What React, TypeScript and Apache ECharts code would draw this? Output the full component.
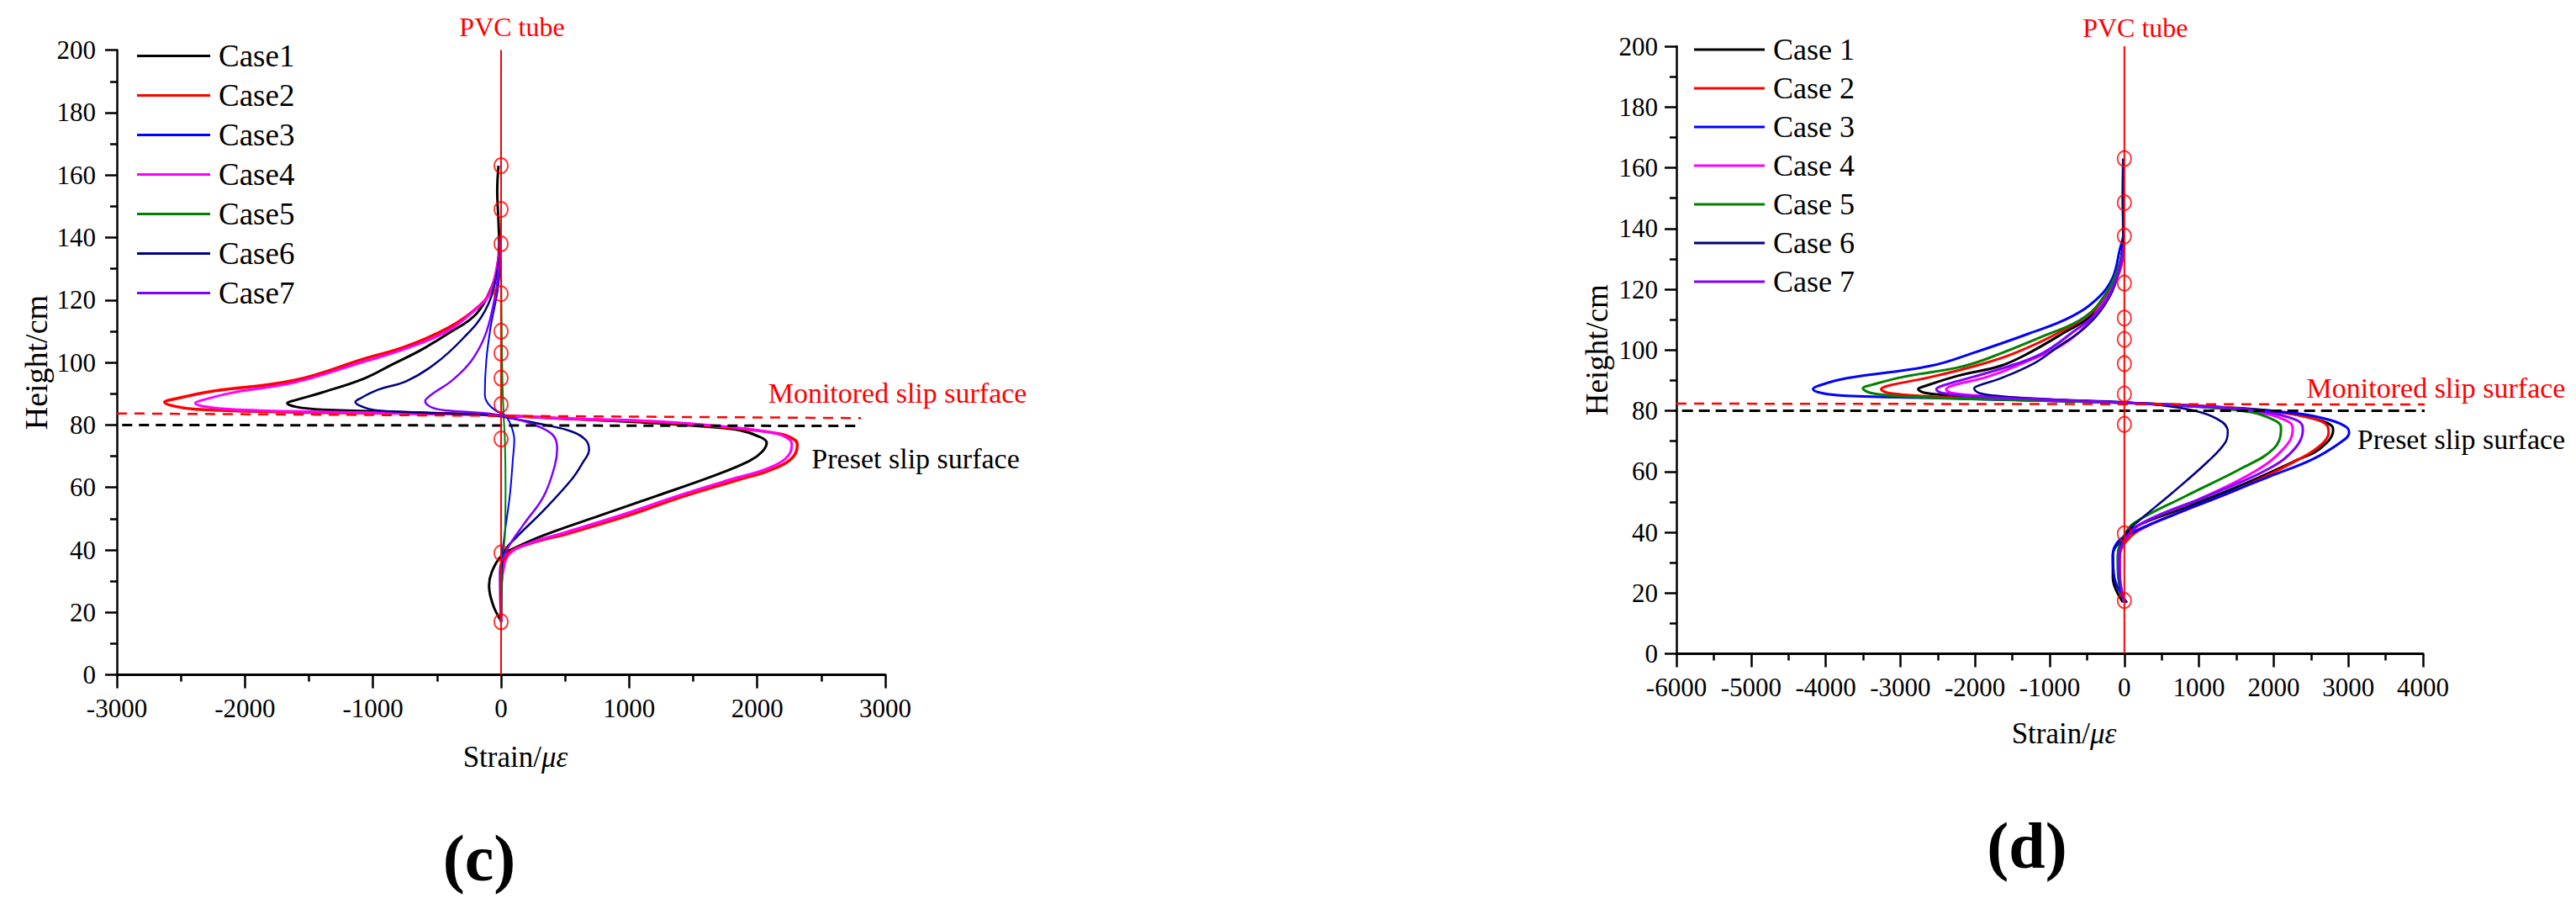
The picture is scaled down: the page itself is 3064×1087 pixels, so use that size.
import { useEffect, useRef } from 'react';
import * as echarts from 'echarts';

const SERIF = '"Liberation Serif", "Times New Roman", serif';

// ---------- Panel (c) ----------
const casesC = ['Case1', 'Case2', 'Case3', 'Case4', 'Case5', 'Case6', 'Case7'];
const xRangeC = [-3000, 3000];
const c1: number[][] = [[-20, 163], [-30, 155], [-20, 145], [-15, 138], [-30, 130], [-70, 124.5], [-193, 115.6], [-412, 109.3], [-630, 103.9], [-849, 99.4], [-1068, 94.9], [-1397, 90.4], [-1600, 88], [-1670, 87.0], [-1600, 85.8], [-1397, 84.9], [-740, 84.1], [-200, 83.4], [0, 83.0], [552, 81.9], [1208, 80.6], [1650, 79.3], [1865, 78.3], [2020, 76.2], [2074, 74.3], [2040, 71.5], [1940, 68.5], [1646, 63.5], [1208, 57.2], [771, 51.0], [333, 44.7], [100, 40.5], [0, 38], [-72, 33], [-94, 28.5], [-61, 22.2], [-6, 17.7]];
const c2: number[][] = [[-5, 140], [-18, 133.5], [-83, 122.7], [-193, 117.3], [-412, 111.1], [-740, 105.2], [-1068, 101.2], [-1615, 94.3], [-2272, 90.7], [-2550, 88.3], [-2628, 87.3], [-2550, 86.0], [-2381, 85.0], [-1615, 84.1], [-742, 83.7], [-20, 83.1], [552, 81.9], [1208, 81.0], [1865, 78.8], [2193, 77.0], [2300, 75], [2313, 73.4], [2259, 68.9], [2084, 65.3], [1865, 62.6], [1427, 57.2], [990, 51.0], [552, 45.6], [223, 42.0], [70, 39.3], [15, 34.8], [0, 26], [0, 17]];
const c3: number[][] = [[0, 140], [-20, 125], [-83, 111], [-116, 100.3], [-127, 89.5], [-105, 87.0], [-40, 84.5], [26, 83.3], [70, 80.6], [103, 75.2], [92, 69], [70, 58.1], [33, 46.6], [11, 39.3], [0, 30], [0, 17]];
const c4: number[][] = [[-5, 140], [-20, 133], [-90, 122], [-200, 117], [-412, 110.2], [-740, 104.5], [-1068, 100.3], [-1615, 93.6], [-2100, 90.3], [-2330, 88], [-2388, 87.0], [-2300, 85.8], [-2053, 84.9], [-1400, 84.2], [-700, 83.7], [0, 83.0], [552, 82.0], [1208, 81.2], [1800, 79.3], [2150, 77.2], [2260, 75], [2270, 73.4], [2220, 69.2], [2050, 65.6], [1830, 63], [1400, 57.6], [950, 51.3], [500, 45.6], [200, 41.8], [60, 38.5], [20, 34], [-5, 25], [0, 17]];
const c5: number[][] = [[0, 135], [5, 110], [10, 95], [15, 88], [20, 83], [30, 75], [35, 60], [30, 45], [15, 38], [5, 25], [0, 17]];
const c6: number[][] = [[0, 140], [-39, 127.2], [-127, 116.4], [-302, 107.5], [-521, 99.4], [-740, 94.0], [-959, 91.3], [-1100, 88.5], [-1138, 87.3], [-1080, 85.8], [-959, 84.6], [-521, 83.8], [-100, 83.2], [100, 82], [333, 80.1], [552, 77.9], [661, 75.2], [687, 72.0], [639, 68.0], [552, 62.6], [333, 52.7], [114, 43.8], [26, 39.3], [0, 30], [0, 17]];
const c7: number[][] = [[0, 140], [-30, 125.7], [-61, 118.3], [-127, 108.4], [-236, 100.3], [-390, 94.0], [-521, 90.4], [-580, 88.5], [-593, 87.7], [-540, 85.6], [-412, 84.6], [-83, 83.6], [100, 82], [223, 80.6], [399, 77.0], [438, 72.5], [420, 67.1], [333, 57.2], [179, 48.3], [48, 40.2], [-10, 33], [-5, 22], [0, 17]];
const sensorsC = [163, 149, 138, 122, 110, 103, 95, 86.5, 75.5, 39, 17];
const monitoredC: number[][] = [[-3000, 83.7], [2810, 82.2]];
const presetC: number[][] = [[-3090, 80], [2810, 79.7]];

// ---------- Panel (d) ----------
const casesD = ['Case 1', 'Case 2', 'Case 3', 'Case 4', 'Case 5', 'Case 6', 'Case 7'];
const xRangeD = [-6000, 4000];
const d1: number[][] = [[-15, 163], [-20, 150], [-15, 138], [-60, 128], [-154, 122], [-417, 111.9], [-830, 105.4], [-1280, 99.0], [-1655, 94.8], [-2218, 91.6], [-2650, 88.3], [-2762, 87.1], [-2650, 85.8], [-2218, 84.8], [-1200, 83.6], [0, 82.6], [1200, 81.3], [2100, 79.6], [2624, 76.8], [2780, 75], [2796, 73.6], [2624, 67.6], [2323, 63.9], [1573, 55.6], [822, 48.2], [146, 41.8], [-60, 37], [-154, 32.5], [-154, 25], [-20, 17]];
const d2: number[][] = [[-5, 135], [-60, 126], [-229, 119], [-417, 112.8], [-904, 105.4], [-1467, 99.0], [-1918, 95.3], [-2593, 91.1], [-3150, 88.3], [-3258, 87.1], [-3150, 85.8], [-2593, 84.7], [-1500, 83.6], [0, 82.6], [1200, 81.3], [2100, 79.4], [2550, 77.3], [2720, 75], [2736, 72.7], [2661, 69.4], [2398, 64.8], [1573, 54.7], [822, 47.3], [183, 40.4], [-30, 35], [-80, 28], [-50, 21], [0, 17]];
const d3: number[][] = [[-5, 138], [-60, 133.1], [-154, 123.9], [-341, 117.4], [-717, 110.9], [-1280, 105.4], [-2030, 99.0], [-2593, 94.8], [-3719, 90.7], [-4100, 88.2], [-4170, 87.1], [-4050, 85.8], [-3719, 84.9], [-2593, 84.2], [-1092, 83.3], [0, 82.6], [1197, 81.0], [2323, 79.1], [2773, 76.8], [2980, 74.5], [3010, 72.7], [2886, 69.4], [2511, 63.9], [1948, 58.4], [1197, 51.0], [634, 45.5], [146, 40.4], [-79, 37.1], [-154, 32.5], [-135, 25.1], [34, 16.8]];
const d4: number[][] = [[-5, 135], [-80, 125], [-300, 115], [-717, 103.6], [-1392, 95.3], [-1843, 91.1], [-2300, 88.3], [-2387, 87.0], [-2300, 85.8], [-1843, 84.8], [-900, 83.6], [0, 82.6], [1000, 81.4], [1800, 79.5], [2150, 77], [2250, 75], [2255, 73.6], [2136, 67.6], [1760, 60.2], [1010, 51.0], [259, 43.3], [20, 38], [-60, 32], [-60, 25], [0, 17]];
const d5: number[][] = [[-5, 135], [-68, 128], [-229, 119.3], [-529, 110.9], [-1092, 104.5], [-1843, 97.1], [-2218, 94.3], [-2969, 91.1], [-3400, 88.4], [-3502, 87.4], [-3400, 85.9], [-2969, 84.7], [-1800, 83.8], [0, 82.6], [1000, 81.4], [1700, 79.5], [2000, 77], [2095, 75], [2098, 73.6], [2004, 67.6], [1573, 61.1], [822, 51.9], [146, 43.3], [0, 39], [-90, 32], [-80, 25], [0, 17]];
const d6: number[][] = [[-15, 163], [-20, 150], [-15, 138], [-94, 124], [-267, 114.7], [-529, 107.3], [-904, 100.8], [-1205, 95.7], [-1655, 90.7], [-1950, 88.3], [-2012, 87.4], [-1950, 85.9], [-1655, 84.8], [-900, 83.7], [0, 82.8], [500, 81.8], [1010, 79.6], [1310, 76.3], [1385, 73.1], [1348, 69.4], [1123, 63.4], [634, 52.8], [184, 43.6], [34, 40], [-60, 34], [-70, 26], [0, 17]];
const d7: number[][] = [[-5, 135], [-100, 124], [-341, 113], [-717, 105.4], [-1092, 99], [-1467, 95.3], [-2030, 91.1], [-2430, 88.3], [-2519, 87.0], [-2430, 85.8], [-2030, 84.8], [-1000, 83.6], [0, 82.6], [1100, 81.4], [1900, 79.5], [2300, 77], [2385, 75], [2391, 73.6], [2286, 67.6], [1948, 61.1], [1197, 52.8], [259, 43.3], [20, 38], [-70, 32], [-60, 25], [0, 17]];
const sensorsD = [163, 148.5, 137.5, 122, 110.5, 103.5, 95.5, 85.5, 75.5, 39.5, 17.5];
const monitoredD: number[][] = [[-6000, 82.35], [4000, 82.05], [4225, 82.0]];
const presetD: number[][] = [[-6150, 80], [4000, 80], [4225, 80]];

const yRange = [0, 200];
const caseColors = ['#000000', '#FF0000', '#0000FF', '#FF00FF', '#008000', '#000080', '#8000FF'];
const widthsC = [3, 3.5, 2, 3, 2, 2.5, 2.5];
const widthsD = [3, 3, 3, 3, 3, 2.5, 3];

const App = () => {
  const ref = useRef<HTMLDivElement>(null);
  useEffect(() => {
    if (!ref.current) return;
    const chart = echarts.init(ref.current, null, { renderer: 'svg' });

    const xAxisBase = (idx: number, range: number[], gap: number) => ({
      type: 'value', gridIndex: idx, min: range[0], max: range[1], interval: 1000,
      name: 'Strain/{i|με}', nameLocation: 'middle', nameGap: gap,
      nameTextStyle: { fontFamily: SERIF, fontSize: 35, color: '#000', padding: [0, 0, 0, 34],
        rich: { i: { fontFamily: SERIF, fontSize: 35, fontStyle: 'italic', color: '#000' } } },
      axisLine: { show: true, onZero: false, lineStyle: { color: '#000', width: 3 } },
      axisTick: { show: true, inside: false, length: 16, lineStyle: { color: '#000', width: 2.5 } },
      minorTick: { show: true, splitNumber: 2, length: 8, lineStyle: { color: '#000', width: 2.5 } },
      axisLabel: { fontFamily: SERIF, fontSize: 31, color: '#000', margin: 24, formatter: (v: number) => String(v) },
      splitLine: { show: false },
    });
    const yAxisBase = (idx: number, gap: number, margin: number, nameSize: number) => ({
      type: 'value', gridIndex: idx, min: yRange[0], max: yRange[1], interval: 20,
      name: 'Height/cm', nameLocation: 'middle', nameGap: gap, nameRotate: 90,
      nameTextStyle: { fontFamily: SERIF, fontSize: nameSize, color: '#000' },
      axisLine: { show: true, onZero: false, lineStyle: { color: '#000', width: 2.5 } },
      axisTick: { show: true, inside: false, length: 14, lineStyle: { color: '#000', width: 2.5 } },
      minorTick: { show: true, splitNumber: 2, length: 8, lineStyle: { color: '#000', width: 2.5 } },
      axisLabel: { fontFamily: SERIF, fontSize: 31, color: '#000', margin, formatter: (v: number) => String(v) },
      splitLine: { show: false },
    });

    const curvesC = [c1, c2, c3, c4, c5, c6, c7];
    const curvesD = [d1, d2, d3, d4, d5, d6, d7];
    const curveSeries = (names: string[], curves: number[][][], widths: number[], idx: number) =>
      curves.map((data, i) => ({
        type: 'line', name: names[i], data, xAxisIndex: idx, yAxisIndex: idx,
        smooth: 0.4, symbol: 'none', showSymbol: false,
        lineStyle: { color: caseColors[i], width: widths[i] }, itemStyle: { color: caseColors[i] },
        z: 3,
      }));

    const labelMark = (coord: number[], text: string, offset: number[], color: string, size: number) => ({
      symbol: 'circle', symbolSize: 1, silent: true,
      itemStyle: { color: 'rgba(0,0,0,0)' },
      label: { show: true, position: 'inside', formatter: text, offset, color, fontFamily: SERIF, fontSize: size },
      data: [{ coord }],
    });

    const dashed = (data: number[][], idx: number, color: string, width: number, dash: number[], mark: any) => ({
      type: 'line', data, xAxisIndex: idx, yAxisIndex: idx, symbol: 'none', showSymbol: false, clip: false,
      lineStyle: { color, width, type: dash }, z: 4, markPoint: mark,
    });

    const pvc = (idx: number, offset: number[]) => ({
      type: 'line', data: [[0, yRange[0]], [0, yRange[1]]], xAxisIndex: idx, yAxisIndex: idx,
      symbol: 'none', showSymbol: false, lineStyle: { color: '#FF0000', width: 2 }, z: 5,
      markPoint: labelMark([0, yRange[1]], 'PVC tube', offset, '#FF0000', 32),
    });
    const sensors = (heights: number[], idx: number) => ({
      type: 'scatter', data: heights.map((h) => [0, h]), xAxisIndex: idx, yAxisIndex: idx,
      symbol: 'circle', symbolSize: [16, 18],
      itemStyle: { color: 'rgba(0,0,0,0)', borderColor: '#FF0000', borderWidth: 2 }, z: 6,
    });

    const option: any = {
      animation: false,
      backgroundColor: '#ffffff',
      grid: [
        { left: 139, top: 59.6, width: 914, height: 743 },
        { left: 1994, top: 55, width: 888, height: 722.5 },
      ],
      xAxis: [xAxisBase(0, xRangeC, 80), xAxisBase(1, xRangeD, 77)],
      yAxis: [yAxisBase(0, 77, 25, 38), yAxisBase(1, 76, 22, 37)],
      legend: [
        { orient: 'vertical', left: 158, top: 43, itemWidth: 87, itemHeight: 3, itemGap: 10, data: casesC, icon: 'rect',
          textStyle: { fontFamily: SERIF, fontSize: 37, lineHeight: 37, color: '#000', padding: [0, 0, 0, 5] } },
        { orient: 'vertical', left: 2010, top: 36, itemWidth: 84, itemHeight: 3, itemGap: 10, data: casesD, icon: 'rect',
          textStyle: { fontFamily: SERIF, fontSize: 36, lineHeight: 36, color: '#000', padding: [0, 0, 0, 5] } },
      ],
      graphic: [
        { type: 'text', x: 570, y: 1020, style: { text: '(c)', fontFamily: SERIF, fontSize: 78, fontWeight: 'bold', fill: '#000', align: 'center', verticalAlign: 'middle' } },
        { type: 'text', x: 2411, y: 1005, style: { text: '(d)', fontFamily: SERIF, fontSize: 78, fontWeight: 'bold', fill: '#000', align: 'center', verticalAlign: 'middle' } },
      ],
      series: [
        ...curveSeries(casesC, curvesC, widthsC, 0),
        dashed(monitoredC, 0, '#FF0000', 2.5, [12, 9], labelMark([2810, 82.2], 'Monitored slip surface', [43.5, -29.4], '#FF0000', 34)),
        dashed(presetC, 0, '#000000', 3, [12, 8], labelMark([2810, 79.7], 'Preset slip surface', [65, 39], '#000000', 34)),
        pvc(0, [13, -28]),
        sensors(sensorsC, 0),
        ...curveSeries(casesD, curvesD, widthsD, 1),
        dashed(monitoredD, 1, '#FF0000', 2.5, [12, 9], labelMark([4000, 82.05], 'Monitored slip surface', [15.5, -20], '#FF0000', 34)),
        dashed(presetD, 1, '#000000', 3, [13, 7], labelMark([4000, 80], 'Preset slip surface', [45.5, 34], '#000000', 34)),
        pvc(1, [13, -22]),
        sensors(sensorsD, 1),
      ],
    };
    chart.setOption(option);
    return () => chart.dispose();
  }, []);
  return (
    <div
      ref={ref}
      style={{ position: 'fixed', left: 0, top: 0, width: 3064, height: 1087, background: '#fff' }}
    />
  );
};

export default App;
